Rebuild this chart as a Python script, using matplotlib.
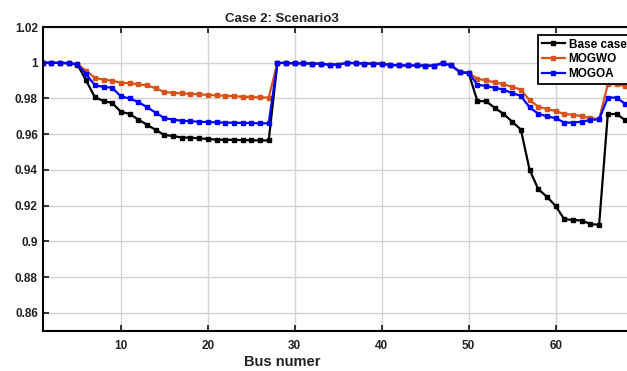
import numpy as np
import matplotlib.pyplot as plt

plt.rcParams['font.family'] = ['Liberation Sans', 'DejaVu Sans']
plt.rcParams['font.weight'] = 'bold'

# bus voltages (p.u.) for the 69-bus feeder
bus = np.arange(1, 70)

base_case = [
    1.0000, 1.0000, 0.9999, 0.9998, 0.9990, 0.9901, 0.9808, 0.9786, 0.9775, 0.9725,
    0.9714, 0.9682, 0.9653, 0.9624, 0.9595, 0.9590, 0.9581, 0.9581, 0.9576, 0.9574,
    0.9569, 0.9569, 0.9568, 0.9567, 0.9566, 0.9565, 0.9565, 0.9999, 0.9999, 0.9997,
    0.9997, 0.9996, 0.9994, 0.9990, 0.9990, 0.9999, 0.9998, 0.9996, 0.9995, 0.9995,
    0.9988, 0.9986, 0.9985, 0.9985, 0.9984, 0.9984, 0.9998, 0.9985, 0.9947, 0.9942,
    0.9785, 0.9785, 0.9747, 0.9714, 0.9670, 0.9626, 0.9401, 0.9292, 0.9249, 0.9198,
    0.9123, 0.9120, 0.9116, 0.9097, 0.9092, 0.9713, 0.9713, 0.9679, 0.9679,
]

mogwo = [
    1.0000, 1.0000, 0.9999, 0.9998, 0.9992, 0.9955, 0.9916, 0.9905, 0.9900, 0.9888,
    0.9885, 0.9880, 0.9873, 0.9858, 0.9836, 0.9832, 0.9828, 0.9826, 0.9823, 0.9820,
    0.9817, 0.9815, 0.9813, 0.9810, 0.9808, 0.9806, 0.9805, 0.9999, 0.9999, 0.9997,
    0.9997, 0.9996, 0.9994, 0.9990, 0.9990, 0.9999, 0.9998, 0.9996, 0.9995, 0.9995,
    0.9988, 0.9986, 0.9985, 0.9985, 0.9984, 0.9984, 0.9998, 0.9985, 0.9949, 0.9944,
    0.9910, 0.9902, 0.9890, 0.9880, 0.9865, 0.9850, 0.9790, 0.9755, 0.9740, 0.9730,
    0.9712, 0.9710, 0.9700, 0.9690, 0.9683, 0.9880, 0.9880, 0.9870, 0.9870,
]

mogoa = [
    1.0000, 1.0000, 0.9999, 0.9998, 0.9991, 0.9937, 0.9874, 0.9865, 0.9860, 0.9812,
    0.9800, 0.9780, 0.9752, 0.9720, 0.9690, 0.9682, 0.9675, 0.9672, 0.9670, 0.9668,
    0.9666, 0.9665, 0.9664, 0.9663, 0.9662, 0.9661, 0.9661, 0.9999, 0.9999, 0.9997,
    0.9997, 0.9996, 0.9994, 0.9990, 0.9990, 0.9999, 0.9998, 0.9996, 0.9995, 0.9995,
    0.9988, 0.9986, 0.9985, 0.9985, 0.9984, 0.9984, 0.9998, 0.9985, 0.9948, 0.9943,
    0.9877, 0.9870, 0.9860, 0.9850, 0.9830, 0.9815, 0.9750, 0.9715, 0.9700, 0.9690,
    0.9665, 0.9665, 0.9670, 0.9680, 0.9683, 0.9805, 0.9805, 0.9770, 0.9770,
]

fig = plt.figure(figsize=(6.27, 3.71), dpi=100)
ax = fig.add_axes([0.068, 0.109, 0.943, 0.818])

ax.plot(bus, base_case, '-s', color='black', lw=1.6, ms=2.5, label='Base case')
ax.plot(bus, mogwo, '-s', color='#D95319', lw=1.6, ms=2.5, label='MOGWO')
ax.plot(bus, mogoa, '-s', color='#0000FF', lw=1.6, ms=2.5, label='MOGOA')

ax.set_xlim(1, 69)
ax.set_ylim(0.85, 1.02)
ax.set_xticks([10, 20, 30, 40, 50, 60])
yt = [0.86, 0.88, 0.9, 0.92, 0.94, 0.96, 0.98, 1.0, 1.02]
ax.set_yticks(yt)
ax.set_yticklabels(['0.86', '0.88', '0.9', '0.92', '0.94', '0.96', '0.98', '1', '1.02'])
ax.tick_params(direction='in', top=True, right=True, length=4, width=1.3,
               labelsize=8.5, colors='#222222')
ax.tick_params(axis='x', pad=7)
for lbl in ax.get_xticklabels() + ax.get_yticklabels():
    lbl.set_fontweight('bold')
ax.grid(True, color='#d4d4d4', lw=1.0)
for s in ax.spines.values():
    s.set_linewidth(1.5)

# title and axis label sit centred on the visible part of the plot
fig.text(282 / 627, 1 - 19 / 371, 'Case 2: Scenario3', ha='center', va='center',
         fontsize=9.5, fontweight='bold', color='#222222')
fig.text(282 / 627, 1 - 362 / 371, 'Bus numer', ha='center', va='center',
         fontsize=10.5, fontweight='bold', color='#222222')

leg = ax.legend(loc='upper left', bbox_to_anchor=(538 / 627, 1 - 35 / 371),
                bbox_transform=fig.transFigure, borderaxespad=0, fancybox=False,
                edgecolor='black', framealpha=1, fontsize=8.5, handlelength=2.0,
                handletextpad=0.3, labelspacing=0.25, borderpad=0.3)
leg.get_frame().set_linewidth(1.3)
for t in leg.get_texts():
    t.set_fontweight('bold')

fig.savefig('out.png', dpi=100)
